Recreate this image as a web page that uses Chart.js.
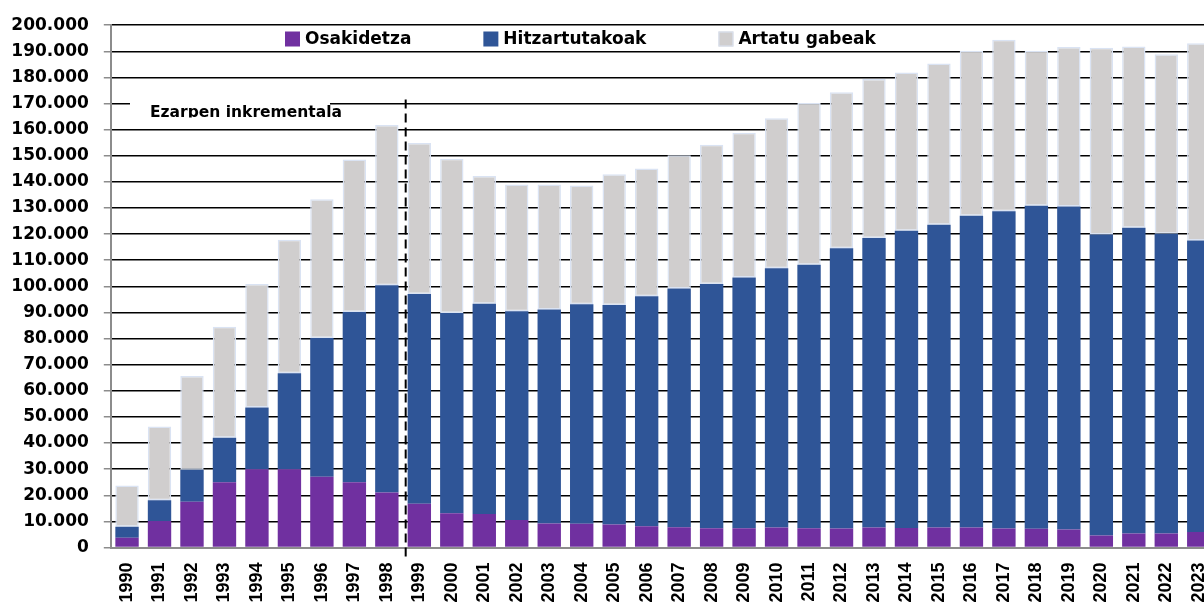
<!DOCTYPE html>
<html>
<head>
<meta charset="utf-8">
<script src="https://cdn.jsdelivr.net/npm/chart.js@4/dist/chart.umd.min.js"></script>
<style>
	html, body { margin: 0; padding: 0; background: #fff; overflow: hidden; }
	#wrap { width: 1225px; height: 615px; }
</style>
</head>
<body>
<div id="wrap"><canvas id="chart" width="1225" height="615"></canvas></div>
<script>
var years = ['1990', '1991', '1992', '1993', '1994', '1995', '1996', '1997', '1998', '1999',
	'2000', '2001', '2002', '2003', '2004', '2005', '2006', '2007', '2008', '2009',
	'2010', '2011', '2012', '2013', '2014', '2015', '2016', '2017', '2018', '2019',
	'2020', '2021', '2022', '2023'];

var osakidetza = [3700, 10100, 17500, 25000, 30000, 30000, 27100, 25000, 21100, 16800,
	13100, 12800, 10500, 9200, 9100, 8800, 8100, 7800, 7400, 7400,
	7700, 7400, 7300, 7700, 7500, 7700, 7700, 7300, 7200, 6900,
	4600, 5400, 5400, 5900];

var hitzartutakoak = [4200, 8000, 12300, 17000, 23600, 36700, 53100, 65200, 79300, 80300,
	76700, 80500, 80000, 81900, 84000, 84100, 88100, 91400, 93500, 96000,
	99200, 100900, 107300, 110800, 113800, 115900, 119300, 121500, 123700, 123700,
	115300, 117000, 114700, 111700];

var artatuGabeak = [15800, 28200, 35900, 42500, 47300, 51100, 53200, 58400, 61400, 57800,
	59100, 49000, 48500, 47900, 45500, 50000, 48900, 51000, 53300, 55400,
	57500, 61900, 59700, 60900, 60600, 61700, 63200, 65600, 59300, 61100,
	71500, 69400, 68800, 75500];

var seriesNames = ['Osakidetza', 'Hitzartutakoak', 'Artatu gabeak'];
var yMin = 0, yMax = 200000, yStep = 10000;
var noteText = 'Ezarpen inkrementala';
var noteAt = 8.58; // between 1998 and 1999, as in the picture

var axisGray = '#8c8c8c';

function thousands(v) {
	return String(v).replace(/\B(?=(\d{3})+(?!\d))/g, '.');
}

/* Legend drawn inside the plot, between the 200.000 and 190.000 lines */
var innerLegend = {
	id: 'innerLegend',
	afterDraw: function (chart) {
		var ctx = chart.ctx;
		var x = 285, y = 39;
		ctx.save();
		ctx.font = 'bold 17px "DejaVu Sans"';
		ctx.textBaseline = 'middle';
		ctx.textAlign = 'left';
		chart.data.datasets.forEach(function (ds) {
			ctx.fillStyle = ds.backgroundColor;
			ctx.fillRect(x, y - 7.5, 15, 15);
			if (ds.borderWidth) {
				ctx.strokeStyle = ds.borderColor;
				ctx.lineWidth = 1;
				ctx.strokeRect(x + 0.5, y - 7, 14, 14);
			}
			ctx.fillStyle = '#000';
			ctx.fillText(ds.label, x + 20, y + 1);
			x += 20 + ctx.measureText(ds.label).width + 72;
		});
		ctx.restore();
	}
};

/* Dashed separator and its text box */
var noteLine = {
	id: 'noteLine',
	afterDatasetsDraw: function (chart) {
		var ctx = chart.ctx;
		var xs = chart.scales.x;
		var ys = chart.scales.y;
		var lx = xs.getPixelForValue(noteAt);

		ctx.save();
		ctx.fillStyle = '#fff';
		ctx.fillRect(130, 90, 200, 27.5);
		ctx.beginPath();
		ctx.rect(130, 102.5, 240, 15);
		ctx.clip();
		ctx.fillStyle = '#000';
		ctx.font = 'bold 15.5px "DejaVu Sans"';
		ctx.textBaseline = 'alphabetic';
		ctx.fillText(noteText, 150, 116.5);
		ctx.restore();

		ctx.save();
		ctx.strokeStyle = '#000';
		ctx.lineWidth = 2;
		ctx.setLineDash([9, 5]);
		ctx.beginPath();
		ctx.moveTo(lx, ys.getPixelForValue(170000) - 4);
		ctx.lineTo(lx, ys.getPixelForValue(0) + 10);
		ctx.stroke();
		ctx.restore();
	}
};

new Chart(document.getElementById('chart'), {
	type: 'bar',
	data: {
		labels: years,
		datasets: [{
			label: seriesNames[0],
			data: osakidetza,
			backgroundColor: '#7030A0',
			borderWidth: 0
		}, {
			label: seriesNames[1],
			data: hitzartutakoak,
			backgroundColor: '#2F5597',
			borderWidth: 0
		}, {
			label: seriesNames[2],
			data: artatuGabeak,
			backgroundColor: '#D0CECE',
			borderColor: '#DAE3F3',
			borderWidth: 1.5,
			borderSkipped: false
		}]
	},
	options: {
		responsive: false,
		animation: false,
		devicePixelRatio: 1,
		layout: { padding: { top: 22.5, left: 0, right: 10, bottom: 0 } },
		datasets: { bar: { categoryPercentage: 1, barPercentage: 0.72 } },
		plugins: {
			legend: { display: false },
			tooltip: { enabled: false }
		},
		scales: {
			x: {
				stacked: true,
				grid: { display: false, drawTicks: false },
				border: { display: true, color: axisGray, width: 2 },
				ticks: {
					autoSkip: false,
					maxRotation: 90,
					minRotation: 90,
					padding: 15,
					color: '#000',
					font: { family: '"Liberation Sans"', weight: 'bold', size: 18 }
				},
				afterFit: function (scale) {
					scale.height = 67.5;
					scale.paddingLeft = 0;
					scale.paddingRight = 0;
				}
			},
			y: {
				stacked: true,
				min: yMin,
				max: yMax,
				grid: {
					color: function (c) { return c.tick && c.tick.value === 0 ? axisGray : '#000'; },
					lineWidth: 1.5,
					tickLength: 7,
					tickColor: axisGray
				},
				border: { display: true, color: axisGray, width: 2 },
				ticks: {
					stepSize: yStep,
					padding: 15,
					color: '#000',
					font: { family: '"DejaVu Sans"', weight: 'bold', size: 17 },
					callback: function (v) { return thousands(v); }
				},
				afterFit: function (scale) { scale.width = 110.8; }
			}
		}
	},
	plugins: [innerLegend, noteLine]
});
</script>
</body>
</html>
